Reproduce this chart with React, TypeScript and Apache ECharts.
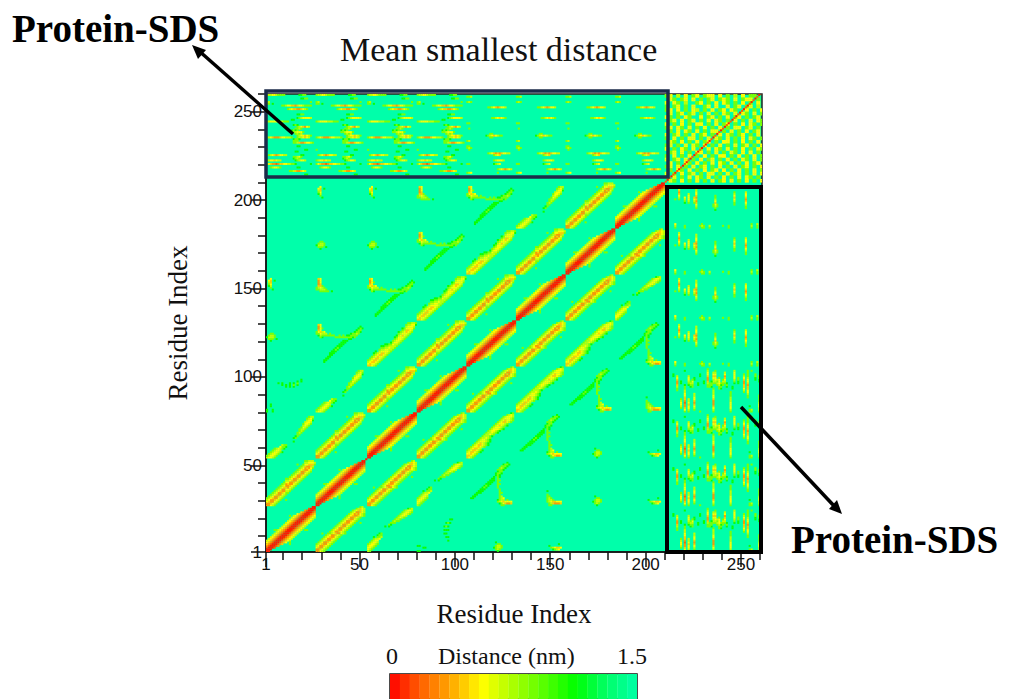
import React, { useEffect, useRef } from "react";
import * as echarts from "echarts";

const SERIF = "Liberation Serif";
const SANS = "Liberation Sans";

// distance (nm) represented by each level character
const levelValues: Record<string, number> = { "1": 1.3, "2": 1.1, "3": 0.85, "4": 0.7, "5": 0.57, "6": 0.45, "7": 0.33, "8": 0.18, "9": 0.05 };
const colorStops = ["#ff0000", "#ff6000", "#ffaa00", "#ffff00", "#aaff00", "#55ff00", "#00ff00", "#00ff66", "#00ffaa"];
const backgroundColor = "#00ffaa";

// first residue of the eight repeats of the protein
const blockStarts = [1, 27, 54, 80, 106, 132, 158, 184];

// block tiles: 26 rows, top row first, 26 columns
const D0 = [
  "........................99", "......................8999", "....................789998", "..................67899987",
  "................5678999876", "............3.456789998765", ".............4567899987654", "............4567899987654.",
  "...........4567899987654", "..........4567899987654", ".........4567899987654", "........4567899987654",
  ".......4567899987654", "....334567899987654 33", ".....4567899987654", "....4567899987654",
  "...4567899987654", "..4567899987654", ".4567899987654", "4567899987654",
  "56789998765.3", "678999876...3", "7899987", "89998", "999", "99",
];
const D1 = [
  ".......................34", ".....................34654", "...................3456654", "..................34577654",
  ".................345767543", "................3456776543", "...............345776543", "..............345677543",
  ".............345776543", "............345677543..3", "...........345776543", "..........345677543",
  ".........345776543", "........345677543", ".......345776543", "...3..3345677543",
  ".....345776543", "....345677543", "...345776543", "..345677543",
  ".345776543", "345677543", "45776543", "5677543", "776543", "77543",
];
const D2 = [
  ".......................23", ".....................3454", "...................345554", "..................3455543",
  ".................34565543", "................34566543", "...............3455543", "..............34565432",
  ".............3455543", "............34555432", "...........3455432", "..........3445432",
  ".........344543", "........344432", ".......344543", "......3455432",
  ".....34555432", "....34565432", "...345665432", "..34556543",
  ".3456654", "345665432", "45665432", "556543", "66543", "6543",
];
const D2s = [
  "", ".....................234", "...................34554", "..................345543",
  ".................345543", "................34554", "...............34543", "..............3443",
  ".............3433", "............333", "...........32", ".........2.2",
  "", "", "", "......23",
  ".....233", "...2.334", "...3445", "..3455",
  ".34554", "345543", "45543", "5543", "543", "43",
];
const D3 = [
  "", ".....................2", "...................2332", "..................3332",
  ".................3432", "................3332", "................233", "...............2332",
  "...............232", "..............2.32", ".............22.3", "............222.33",
  "...........222..3", "..........222...33", ".........232....3", "........232.....3",
  ".......222.......3", "......222........3", ".....222.........33", "....22...........3",
  "...22............34", "..22.............345", "................2344.3", "................34565555",
  ".................2356776", "..................33",
];
const D3s = [
  "", "", "", "", "", "", "", ".................22",
  "", "...............232", "", "..............232",
  "", "..............222", "", "..............22",
  "", "...............22", "", "................2",
  "", "", "22", "...22", "", "22",
];
const D4 = [
  "", "", "", "", "", "", "", "", "", "", "", "", "", "", "", "", "",
  "................2", "", "................3", "................33", "................343", "................3443",
  "................34566555", ".................3467776", ".................33",
];
const D5 = [
  "", "", "", "", "", "", "", "", "", "", "", "", "", "", "", "", "", "", "", "",
  "...............2", "................33", "...............3443", "..............23443", "...............343", "................2",
];
const D6 = [
  "", "", "", "", "", "", "", "", "", "", "", "", "", "", "", "", "", "", "", "", "",
  "......................2", ".................2", "..................345665", "...................2345", "",
];

// tile used by each pair of repeats: row = lower repeat, column = higher repeat
const blockTable: (string[] | null)[][] = [
  [D0, D1, D2s, D3s, D5, D6, null, null],
  [null, D0, D1, D2s, D3, D4, D5, D6],
  [null, null, D0, D1, D2, D3, D5, D6],
  [null, null, null, D0, D1, D2, D3, D4],
  [null, null, null, null, D0, D1, D2, D3],
  [null, null, null, null, null, D0, D1, D2s],
  [null, null, null, null, null, null, D0, D1],
  [null, null, null, null, null, null, null, D0],
];

// protein-SDS streaks: [SDS residue, offset inside the repeat, levels]
const denseRuns: [number, number, string][] = [
  [259, 0, "3445543333"], [259, 17, "2233"], [257, 18, "2233"], [255, 0, "34"], [255, 23, "3"], [254, 0, "33.2"],
  [253, 8, "3345566765543333"], [251, 11, "34566776543"], [248, 16, "2233"], [246, 16, "23455554"], [245, 13, "22"],
  [244, 0, "345555444333"], [242, 14, "232"], [241, 16, "3456754"], [240, 15, "3343"], [239, 13, "2323"],
  [238, 13, "3345553"], [237, 15, "3434"], [236, 16, "34556543"], [235, 0, "34567776554443"], [235, 16, "3445654"],
  [234, 14, "2332"], [233, 14, "333"], [232, 14, "33467765543"], [230, 16, "22"], [228, 0, "3"], [228, 20, "22"],
  [227, 15, "22"], [225, 1, "3456765544"], [225, 18, "22"], [224, 14, "33453"], [223, 14, "2343"], [222, 0, "34556544"],
  [222, 15, "234554"], [220, 0, "3567787665544332"], [220, 23, "2"], [218, 2, "345543"], [218, 16, "22"],
  [216, 12, "334677654"], [214, 20, "22"],
];
const sparseRuns: [number, number, string][] = [
  [258, 0, "334"], [255, 0, "343"], [252, 11, "3345676554"], [246, 13, "33456543"], [243, 0, "33"], [240, 1, "3"],
  [237, 12, "33"], [236, 10, "234565433"], [235, 12, "33"], [233, 0, "34"], [230, 0, "33"], [229, 0, "343"], [228, 1, "3"],
  [226, 11, "345676765544"], [225, 14, "3456"], [222, 14, "345554"], [220, 0, "33"], [220, 14, "2345"],
  [217, 16, "34567654"], [215, 0, "345"], [215, 16, "3"],
];
const panelRuns = [denseRuns, denseRuns, denseRuns, denseRuns, sparseRuns, sparseRuns, sparseRuns, sparseRuns];

// SDS-SDS corner, top row first, each character covers two residues
const cornerRows = [
  "5.3.553.35.53535.54.35.53.", "35.4.5.35.355.5.3.4.5.33..", ".53.35.5.3.35.353.5.355.3.", "5.53.4..35.3.5.53.3.5.3.5.",
  "3.35.3.5..35.5..5.35.35.4.", "35.5.3.54.3.5.35.53..5.3.5", ".5.35.35.3.5.3.53.5.53.5.3", "53.3.53..5.35.3.5.35.3.35.",
  ".35.5.35.3.5.53.3.5.3.5.53", "5.3.5.3.55.3.5.35.3.5.53.3", "35.53.5.3.5.3.5.3.55.35.3.", ".3.5.53.5.3.55.3.5.3.5.35.",
  "5.35.3.5.35.3.5.53.35.3.5.", "3.5.3.55.3.5.53.5.3.5.53.3", ".53.5.3.5.35.3.55.3.5.3.5.", "35.3.5.53.5.3.5.3.5.35.3.5",
  "5.3.53.5.3.5.53.5.3.5.3.53", ".35.5.3.55.3.5.3.53.5.5.3.", "3.5.3.5.3.5.3.55.3.5.3.5.3", "5.35.5.3.5.35.3.5.3.53.5.3",
  ".5.3.53.5.3.5.53.5.3.5.35.", "35.5.3.5.35.3.5.3.5.35.3.5", ".3.53.5.3.5.35.5.3.5.3.5.3", "5.3.5.35.3.55.3.5.35.3.5.5",
  "3.5.3.5.53.5.3.5.3.5.53.3.", ".53.5.3.5.3.5.35.5.3.5.3.5",
];
const cornerStart = 210;
const cornerDiagonal = "898989898989898989898989898989898989898989898989898";

// colour bar steps (nm)
const barValues = [0.03, 0.09, 0.15, 0.21, 0.27, 0.33, 0.39, 0.45, 0.51, 0.57, 0.63, 0.69, 0.75, 0.81, 0.87, 0.93, 0.99, 1.05, 1.11, 1.17, 1.23, 1.29, 1.35, 1.41, 1.47];

const xMajorTicks = [1, 50, 100, 150, 200, 250];
const xMinorTicks = [10, 20, 30, 40, 60, 70, 80, 90, 110, 120, 130, 140, 160, 170, 180, 190, 210, 220, 230, 240, 260];

function buildCells() {
  const cells: number[][] = [];
  const put = (x: number, y: number, ch: string) => {
    const v = levelValues[ch];
    if (v !== undefined) cells.push([x, y, v, 1, 1]);
  };
  blockTable.forEach((row, r) =>
    row.forEach((tile, c) => {
      if (!tile) return;
      tile.forEach((line, k) => {
        const i = 25 - k;
        for (let j = 0; j < Math.min(line.length, 26); j++) {
          put(blockStarts[c] + j, blockStarts[r] + i, line[j]);
          if (c !== r) put(blockStarts[c] + i, blockStarts[r] + j, "");
          if (c !== r) put(blockStarts[r] + i, blockStarts[c] + j, line[j]);
        }
      });
    }),
  );
  put(53, 53, "9");
  panelRuns.forEach((runs, c) =>
    runs.forEach(([res, off, levels]) => {
      for (let k = 0; k < levels.length; k++) {
        put(blockStarts[c] + off + k, res, levels[k]);
        put(res, blockStarts[c] + off + k, levels[k]);
      }
    }),
  );
  cornerRows.forEach((line, k) => {
    const y = cornerStart + (25 - k) * 2;
    for (let j = 0; j < line.length; j++) {
      for (let a = 0; a < 2; a++) for (let b = 0; b < 2; b++) put(cornerStart + j * 2 + a, y + b, line[j]);
    }
  });
  for (let k = 0; k < cornerDiagonal.length; k++) put(cornerStart + k, cornerStart + k, cornerDiagonal[k]);
  return cells;
}

function renderCell(_: any, api: any) {
  const a = api.coord([api.value(0), api.value(1)]);
  const b = api.coord([api.value(0) + api.value(3), api.value(1) + api.value(4)]);
  return {
    type: "rect",
    shape: { x: a[0], y: b[1], width: b[0] - a[0] + 0.2, height: a[1] - b[1] + 0.2 },
    style: { fill: api.visual("color") },
  };
}

const arrowLine = { stroke: "#000", lineWidth: 3.5 };

export default function App() {
  const ref = useRef<HTMLDivElement>(null);
  useEffect(() => {
    const chart = echarts.init(ref.current!, undefined, { renderer: "svg" });
    const hiddenAxis = { show: false };
    chart.setOption({
      animation: false,
      backgroundColor: "#fff",
      title: {
        text: "Mean smallest distance",
        left: 335,
        top: 27,
        textStyle: { fontFamily: SERIF, fontSize: 34, fontWeight: "normal", color: "#111" },
      },
      grid: [
        { left: 266, top: 94, width: 496, height: 458, show: true, backgroundColor, borderColor: "#222", borderWidth: 1.5 },
        { left: 390, top: 674, width: 247, height: 40, show: true, backgroundColor: "#fff", borderColor: "#111", borderWidth: 1.5 },
      ],
      xAxis: [
        {
          type: "value", gridIndex: 0, min: 1, max: 261, position: "bottom",
          name: "Residue Index", nameLocation: "middle", nameGap: 48,
          nameTextStyle: { fontFamily: SERIF, fontSize: 27, color: "#111" },
          splitLine: { show: false },
          axisLine: { show: true, lineStyle: { color: "#111", width: 1.5 } },
          axisTick: { show: true, length: 15, customValues: xMajorTicks, lineStyle: { color: "#111", width: 1.5 } },
          axisLabel: { show: true, customValues: xMajorTicks, fontFamily: SANS, fontSize: 17, color: "#111", margin: 4, formatter: (v: number) => String(v) },
        },
        {
          type: "value", gridIndex: 0, min: 1, max: 261, position: "bottom",
          splitLine: { show: false }, axisLine: { show: false },
          axisTick: { show: true, length: 8, customValues: xMinorTicks, lineStyle: { color: "#111", width: 1.5 } },
          axisLabel: { show: false },
        },
        { type: "value", gridIndex: 1, min: 0, max: 25, ...hiddenAxis },
      ],
      yAxis: [
        {
          type: "value", gridIndex: 0, min: 1, max: 260, position: "left",
          name: "Residue Index", nameLocation: "middle", nameGap: 75, nameRotate: 90,
          nameTextStyle: { fontFamily: SERIF, fontSize: 27, color: "#111" },
          splitLine: { show: false },
          axisLine: { show: true, lineStyle: { color: "#111", width: 1.5 } },
          axisTick: { show: true, length: 15, customValues: xMajorTicks, lineStyle: { color: "#111", width: 1.5 } },
          axisLabel: { show: true, customValues: xMajorTicks, fontFamily: SANS, fontSize: 17, color: "#111", margin: 4, formatter: (v: number) => String(v) },
        },
        {
          type: "value", gridIndex: 0, min: 1, max: 260, position: "left",
          splitLine: { show: false }, axisLine: { show: false },
          axisTick: { show: true, length: 8, customValues: xMinorTicks, lineStyle: { color: "#111", width: 1.5 } },
          axisLabel: { show: false },
        },
        { type: "value", gridIndex: 1, min: 0, max: 1, ...hiddenAxis },
      ],
      visualMap: { show: false, type: "continuous", min: 0, max: 1.5, dimension: 2, seriesIndex: [0, 1], inRange: { color: colorStops } },
      series: [
        {
          type: "custom", xAxisIndex: 0, yAxisIndex: 0, silent: true, clip: true, progressive: 0,
          renderItem: renderCell, data: buildCells(), encode: { x: 0, y: 1 },
        },
        {
          type: "custom", xAxisIndex: 2, yAxisIndex: 2, silent: true, clip: true, progressive: 0,
          renderItem: renderCell, data: barValues.map((v, i) => [i, 0, v, 1, 1]), encode: { x: 0, y: 1 },
        },
      ],
      graphic: [
        { type: "rect", z: 100, shape: { x: 266, y: 91, width: 402, height: 86 }, style: { fill: "none", stroke: "#1c2b4a", lineWidth: 3.5 } },
        { type: "rect", z: 100, shape: { x: 667, y: 187, width: 94, height: 365 }, style: { fill: "none", stroke: "#000", lineWidth: 4 } },
        { type: "line", z: 101, shape: { x1: 293, y1: 134, x2: 198, y2: 50 }, style: arrowLine },
        { type: "polygon", z: 101, shape: { points: [[192, 45], [206, 50], [198, 59]] }, style: { fill: "#000" } },
        { type: "line", z: 101, shape: { x1: 741, y1: 407, x2: 836, y2: 508 }, style: arrowLine },
        { type: "polygon", z: 101, shape: { points: [[842, 514], [829, 509], [837, 500]] }, style: { fill: "#000" } },
        { type: "text", z: 102, x: 12, y: 9, style: { text: "Protein-SDS", fontFamily: SERIF, fontSize: 39, fontWeight: "bold", fill: "#000" } },
        { type: "text", z: 102, x: 791, y: 520, style: { text: "Protein-SDS", fontFamily: SERIF, fontSize: 39, fontWeight: "bold", fill: "#000" } },
        { type: "text", z: 102, x: 386, y: 644, style: { text: "0", fontFamily: SERIF, fontSize: 24, fill: "#111" } },
        { type: "text", z: 102, x: 438, y: 644, style: { text: "Distance (nm)", fontFamily: SERIF, fontSize: 24, fill: "#111" } },
        { type: "text", z: 102, x: 617, y: 644, style: { text: "1.5", fontFamily: SERIF, fontSize: 24, fill: "#111" } },
      ],
    });
    return () => chart.dispose();
  }, []);
  return <div ref={ref} style={{ position: "absolute", left: 0, top: 0, width: 1015, height: 699 }} />;
}
